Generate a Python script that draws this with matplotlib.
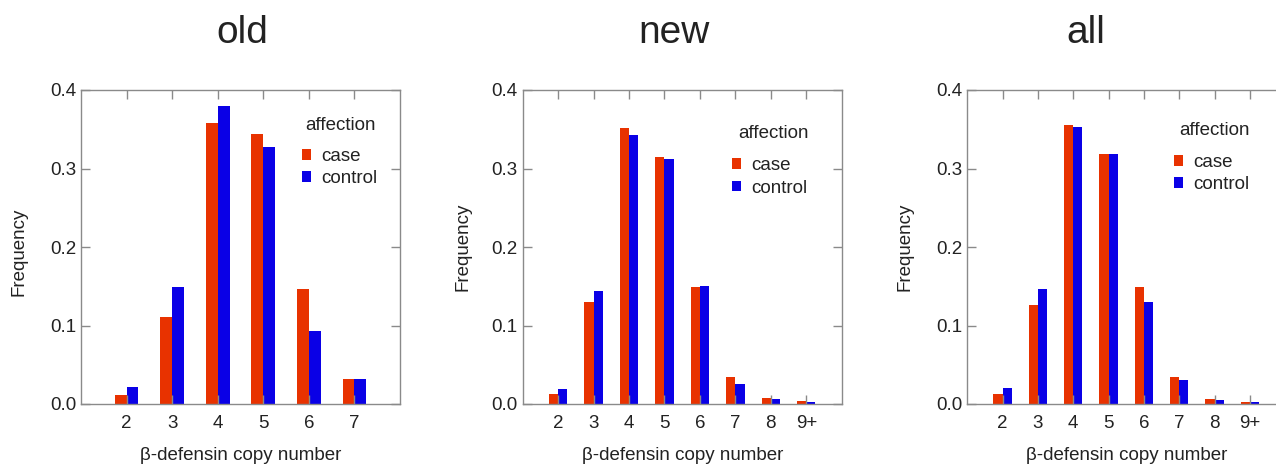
import matplotlib
matplotlib.use("Agg")
import matplotlib.pyplot as plt
import numpy as np

plt.rcParams['font.family'] = ['Liberation Sans', 'DejaVu Sans']

# Copy-number frequencies for cases and controls in each cohort
titles = ["old", "new", "all"]

labels_old = ["2", "3", "4", "5", "6", "7"]
case_old = [0.011, 0.111, 0.358, 0.344, 0.147, 0.032]
control_old = [0.022, 0.149, 0.380, 0.327, 0.093, 0.032]

labels_new = ["2", "3", "4", "5", "6", "7", "8", "9+"]
case_new = [0.013, 0.130, 0.352, 0.315, 0.149, 0.035, 0.008, 0.004]
control_new = [0.019, 0.144, 0.343, 0.312, 0.150, 0.026, 0.007, 0.002]

labels_all = ["2", "3", "4", "5", "6", "7", "8", "9+"]
case_all = [0.013, 0.126, 0.355, 0.318, 0.149, 0.035, 0.006, 0.003]
control_all = [0.020, 0.146, 0.353, 0.318, 0.130, 0.030, 0.005, 0.002]

yticks = [0.0, 0.1, 0.2, 0.3, 0.4]

CASE_COLOR = "#E83200"
CONTROL_COLOR = "#0A00E6"
SPINE = "#8a8a8a"
TEXT = "#222222"
FS = 13.5

W, H = 1276, 468
fig = plt.figure(figsize=(W / 100, H / 100), dpi=100)

# title, labels, case, control, axes left px, axes width px, title x px,
# ylabel anchor (x, y), legend handle anchor (x, y), legend title (x, y)
panels = [
    (titles[0], labels_old, case_old, control_old, 81.0, 319.0, 242,
     (-0.168, 0.484), (0.692, 0.752), (0.815, 0.8885)),
    (titles[1], labels_new, case_new, control_new, 522.7, 319.0, 674,
     (-0.160, 0.5), (0.656, 0.723), (0.785, 0.863)),
    (titles[2], labels_all, case_all, control_all, 967.3, 318.0, 1086,
     (-0.168, 0.5), (0.650, 0.733), (0.777, 0.8726)),
]

ax_top, ax_bot = 90.0, 404.0
bw = 0.26

for (title, labs, case, ctrl, left, width, tx, ylc, lega, legt) in panels:
    ax = fig.add_axes([left / W, 1 - ax_bot / H, width / W, (ax_bot - ax_top) / H])
    x = np.arange(2, 2 + len(labs))
    b1 = ax.bar(x - bw / 2, case, width=bw, color=CASE_COLOR, linewidth=0, label="case")
    b2 = ax.bar(x + bw / 2, ctrl, width=bw, color=CONTROL_COLOR, linewidth=0, label="control")
    ax.set_xlim(1, 2 + len(labs))
    ax.set_ylim(0, 0.4)
    ax.set_xticks(x)
    ax.set_xticklabels(labs)
    ax.set_yticks(yticks)
    ax.set_yticklabels([f"{v:.1f}" for v in yticks])
    for s in ax.spines.values():
        s.set_color(SPINE)
        s.set_linewidth(1.0)
    ax.tick_params(axis='both', which='both', direction='in', top=True, right=True,
                   length=6.5, width=1.0, color=SPINE, labelsize=FS, labelcolor=TEXT)
    ax.tick_params(axis='x', pad=8.0)
    ax.tick_params(axis='y', pad=3.5)
    ax.set_xlabel("β-defensin copy number", fontsize=FS, color=TEXT, labelpad=11)
    ax.set_ylabel("Frequency", fontsize=FS, color=TEXT)
    ax.yaxis.set_label_coords(*ylc)
    leg = ax.legend(handles=[b1, b2], loc="center left",
                    bbox_to_anchor=lega, frameon=False, borderpad=0,
                    borderaxespad=0, handlelength=0.5, handleheight=0.5,
                    handletextpad=0.55, labelspacing=0.27, fontsize=FS)
    for t in leg.get_texts():
        t.set_color(TEXT)
    ax.text(legt[0], legt[1], "affection", transform=ax.transAxes, ha="center",
            va="center", fontsize=FS, color=TEXT)
    fig.text(tx / W, 1 - 43 / H, title, ha="center", va="baseline", fontsize=28, color=TEXT)

fig.savefig("out.png", dpi=100)
